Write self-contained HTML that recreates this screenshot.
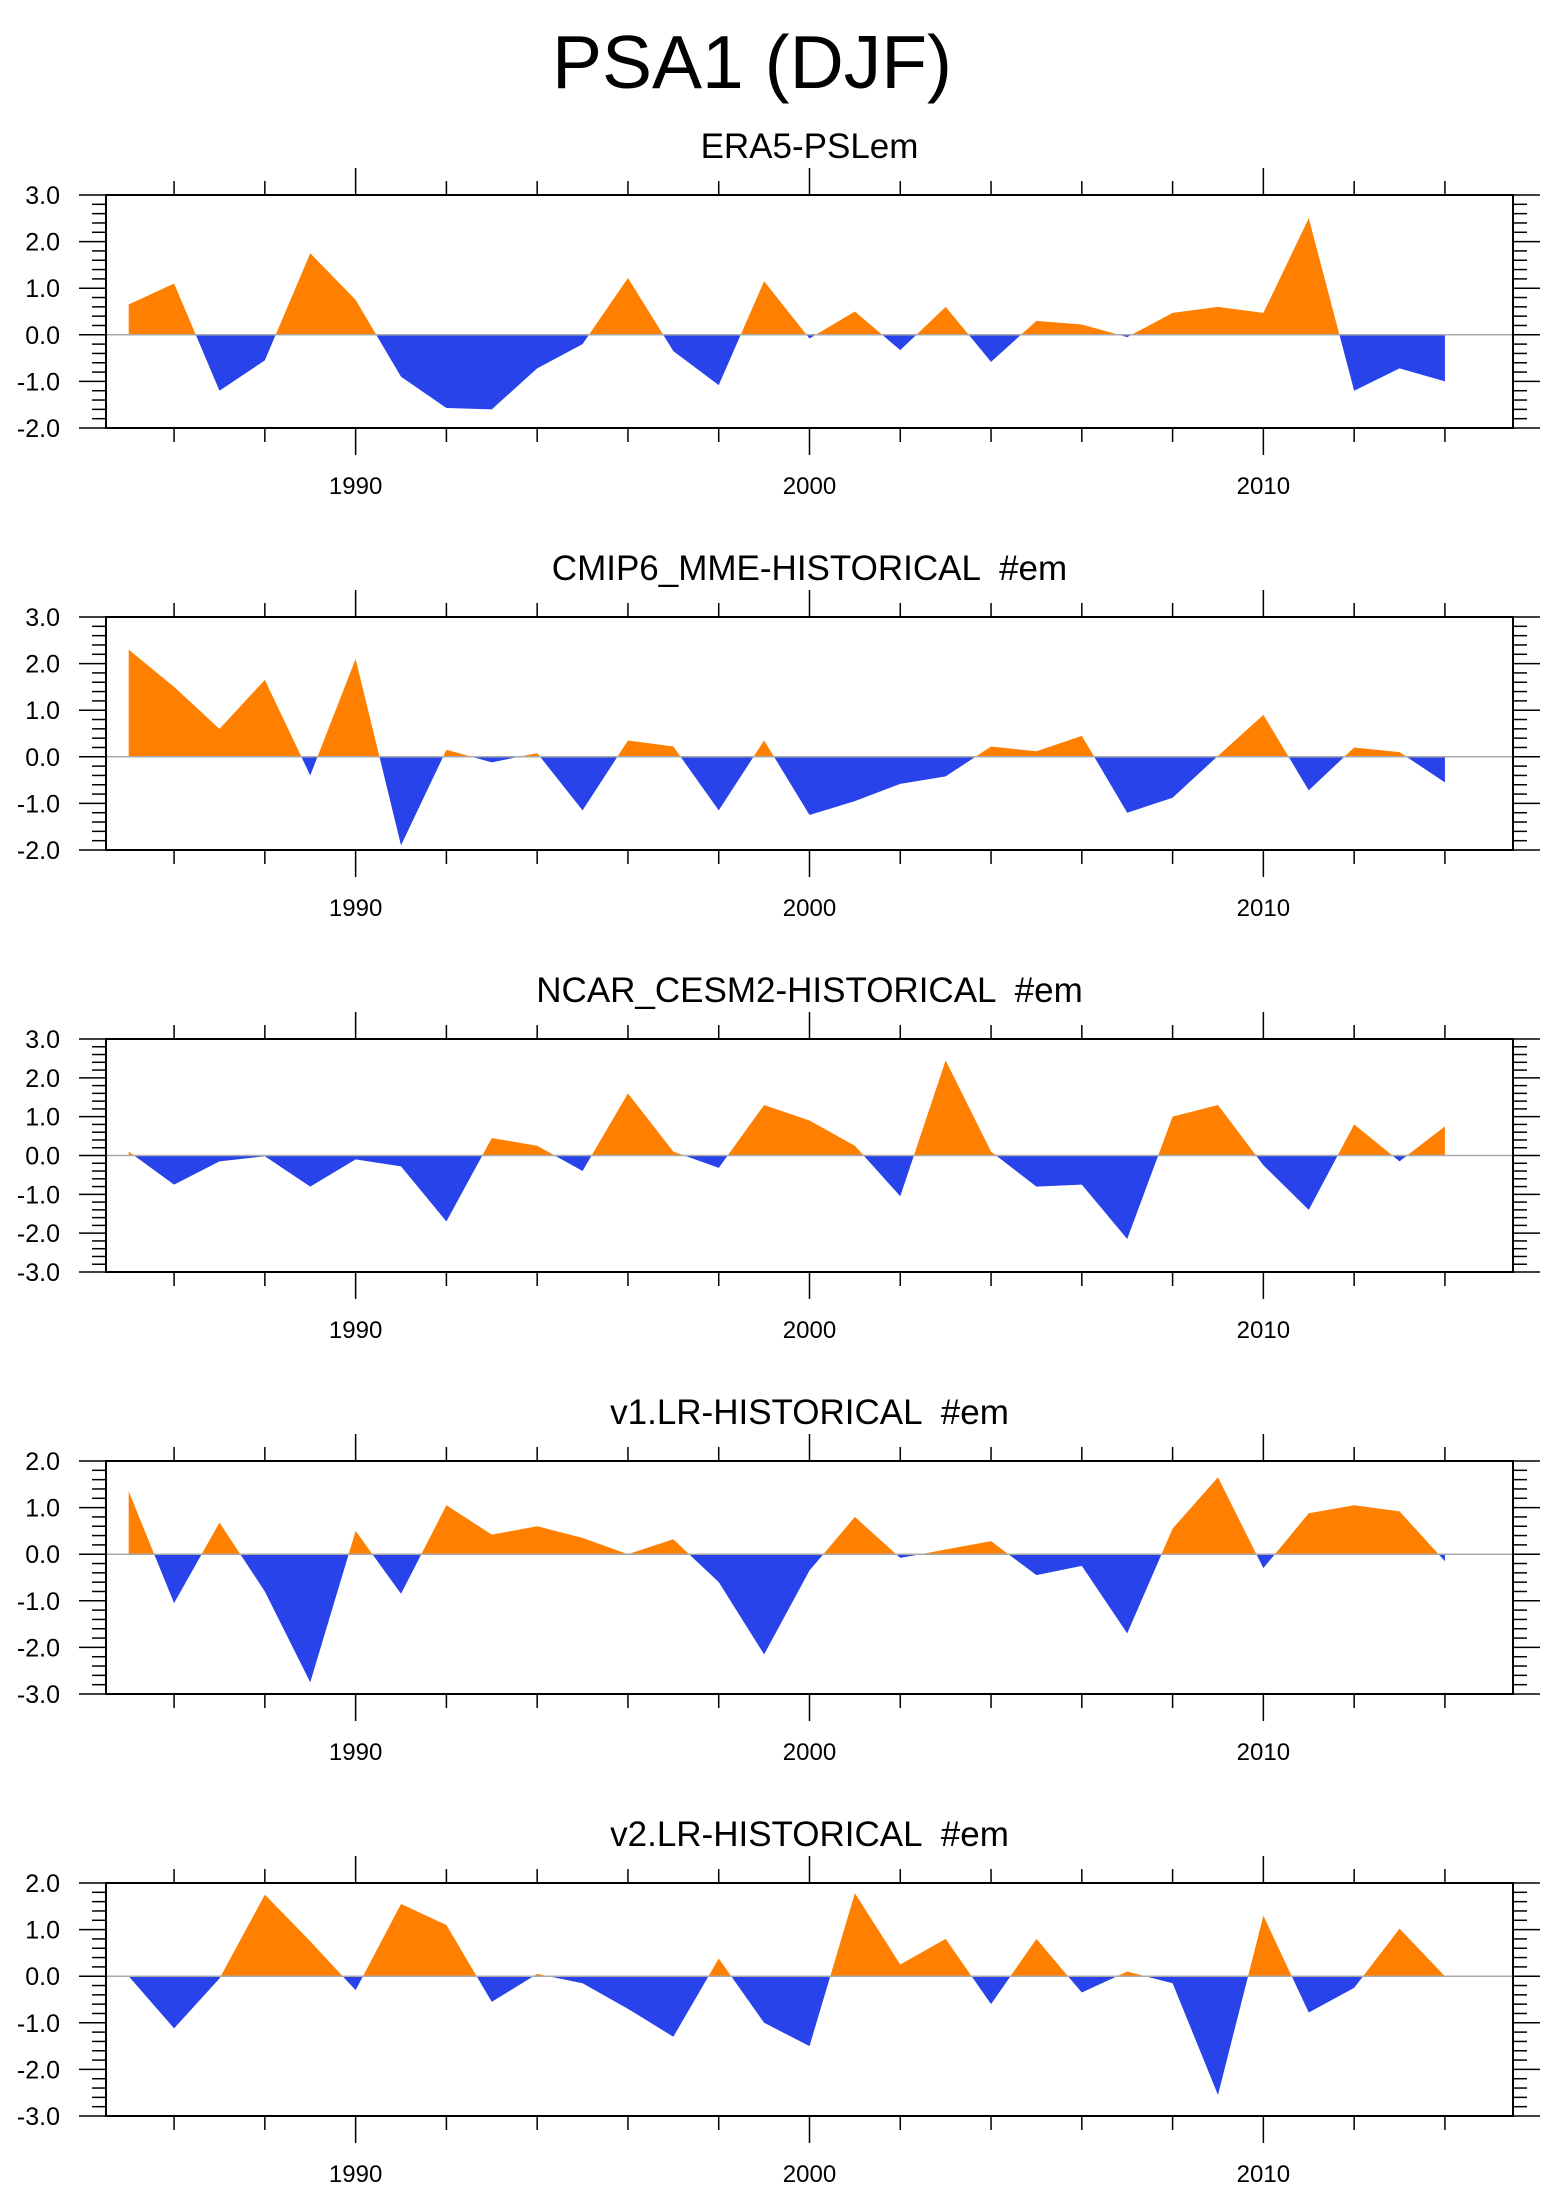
<!DOCTYPE html>
<html><head><meta charset="utf-8">
<style>
html,body{margin:0;padding:0;background:#fff;}
svg{display:block;font-family:"Liberation Sans",sans-serif;}
text{white-space:pre;}
</style></head>
<body>
<svg id="chart" width="1554" height="2210" viewBox="0 0 1554 2210" xmlns="http://www.w3.org/2000/svg">
<text x="752" y="88" font-size="75" text-anchor="middle" fill="#000">PSA1 (DJF)</text>
</svg>
<script>
const years = [1985,1986,1987,1988,1989,1990,1991,1992,1993,1994,1995,1996,1997,1998,1999,2000,2001,2002,2003,2004,2005,2006,2007,2008,2009,2010,2011,2012,2013,2014];
const titles = ["ERA5-PSLem","CMIP6_MME-HISTORICAL  #em","NCAR_CESM2-HISTORICAL  #em","v1.LR-HISTORICAL  #em","v2.LR-HISTORICAL  #em"];
const yMins = [-2,-2,-3,-3,-3];
const yMaxs = [3,3,3,2,2];
const xTickYears = [1990,2000,2010];
const era5 = [0.65,1.1,-1.2,-0.55,1.75,0.75,-0.9,-1.57,-1.6,-0.72,-0.2,1.22,-0.35,-1.08,1.15,-0.08,0.5,-0.33,0.6,-0.58,0.3,0.22,-0.05,0.47,0.6,0.47,2.5,-1.2,-0.72,-1.0];
const mme = [2.3,1.5,0.6,1.65,-0.4,2.1,-1.9,0.15,-0.12,0.08,-1.15,0.35,0.22,-1.15,0.35,-1.25,-0.95,-0.58,-0.42,0.22,0.12,0.45,-1.2,-0.88,0.02,0.9,-0.72,0.2,0.1,-0.55];
const cesm2 = [0.1,-0.75,-0.15,-0.02,-0.8,-0.1,-0.28,-1.7,0.45,0.25,-0.4,1.6,0.1,-0.32,1.3,0.9,0.25,-1.05,2.45,0.1,-0.8,-0.75,-2.15,1.0,1.3,-0.25,-1.4,0.8,-0.15,0.75];
const v1lr = [1.35,-1.05,0.68,-0.8,-2.75,0.5,-0.85,1.05,0.42,0.6,0.35,0.0,0.32,-0.6,-2.15,-0.35,0.8,-0.08,0.1,0.28,-0.45,-0.25,-1.7,0.55,1.65,-0.3,0.88,1.05,0.92,-0.15];
const v2lr = [0.0,-1.12,-0.05,1.75,0.75,-0.3,1.55,1.1,-0.55,0.05,-0.15,-0.7,-1.3,0.38,-1.0,-1.5,1.78,0.25,0.8,-0.6,0.8,-0.35,0.1,-0.15,-2.55,1.3,-0.78,-0.25,1.02,0.0];
const series = [era5,mme,cesm2,v1lr,v2lr];

const NS="http://www.w3.org/2000/svg";
const svg=document.getElementById('chart');
const L=106,R=1513,H=233,X0=1984.5,X1=2015.5;
const tops=[195,617,1039,1461,1883];
function mk(tag,attrs,parent){const e=document.createElementNS(NS,tag);for(const k in attrs)e.setAttribute(k,attrs[k]);(parent||svg).appendChild(e);return e;}
const xs=v=>L+(v-X0)/(X1-X0)*(R-L);

series.forEach((vals,p)=>{
  const top=tops[p],bot=top+H,ymin=yMins[p],ymax=yMaxs[p];
  const ys=v=>bot-(v-ymin)/(ymax-ymin)*H;
  const g=mk('g',{});
  
  
  const t=mk('text',{x:(L+R)/2,y:top-37,'font-size':35,'text-anchor':'middle',fill:'#000'},g);
  t.textContent=titles[p];
  
  
  const pts=[];
  for(let i=0;i<vals.length;i++){
    if(i>0){const a=vals[i-1],b=vals[i];
      if((a>0&&b<0)||(a<0&&b>0)){const f=a/(a-b);pts.push([years[i-1]+f,0]);}}
    pts.push([years[i],vals[i]]);
  }
  const y0=ys(0);
  ['pos','neg'].forEach(kind=>{
    let d='M'+xs(pts[0][0])+','+y0;
    pts.forEach(q=>{const v=kind==='pos'?Math.max(q[1],0):Math.min(q[1],0);d+=' L'+xs(q[0]).toFixed(2)+','+ys(v).toFixed(2);});
    d+=' L'+xs(pts[pts.length-1][0])+','+y0+' Z';
    const a=mk('path',{d:d,fill:kind==='pos'?'#ff8000':'#2943ea'},g);
    
    
  });
  const zl=mk('line',{x1:L,x2:R,y1:y0,y2:y0,stroke:'#aaa','stroke-width':1.5},g);
  
  
  const fr=mk('rect',{x:L,y:top,width:R-L,height:H,fill:'none',stroke:'#000','stroke-width':2},g);
  
  
  for(let yr=1986;yr<=2014;yr+=2){
    const x=xs(yr),maj=xTickYears.includes(yr),len=maj?27:14;
    mk('line',{x1:x,x2:x,y1:top,y2:top-len,stroke:'#000','stroke-width':1.5},g);
    mk('line',{x1:x,x2:x,y1:bot,y2:bot+len,stroke:'#000','stroke-width':1.5},g);
  }
  xTickYears.forEach(yr=>{
    const tl=mk('text',{x:xs(yr),y:bot+66,'font-size':24,'text-anchor':'middle',fill:'#000'},g);
    tl.textContent=yr;
    
    
  });
  for(let k=Math.round(ymin*5);k<=Math.round(ymax*5);k++){
    const v=k/5,y=ys(v),maj=(k%5===0),len=maj?27:14;
    mk('line',{x1:L,x2:L-len,y1:y,y2:y,stroke:'#000','stroke-width':1.5},g);
    mk('line',{x1:R,x2:R+len,y1:y,y2:y,stroke:'#000','stroke-width':1.5},g);
    if(maj){
      const yl=mk('text',{x:60,y:y+9,'font-size':25,'text-anchor':'end',fill:'#000'},g);
      yl.textContent=v.toFixed(1);
      
      
    }
  }
});
</script>
</body></html>
